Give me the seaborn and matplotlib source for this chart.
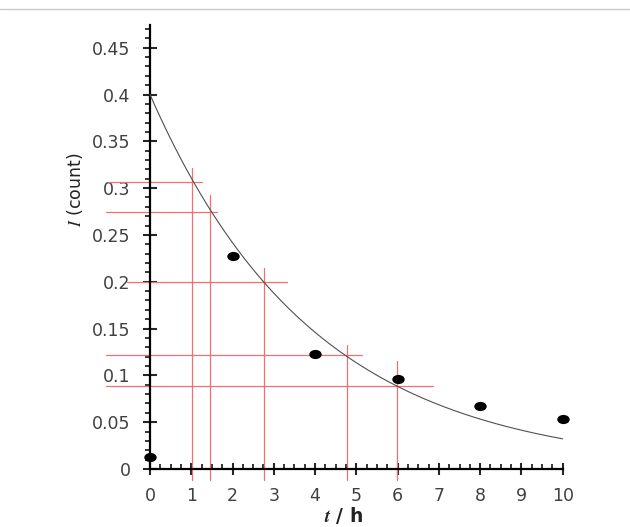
import numpy as np
import pandas as pd
import matplotlib
matplotlib.use("Agg")
import matplotlib.pyplot as plt
import seaborn as sns
from matplotlib.lines import Line2D
from matplotlib.path import Path
from matplotlib.transforms import Affine2D
from matplotlib.ticker import FixedLocator

# measured points
t_hours = [0, 2, 4, 6, 8, 10]
counts = [0.013, 0.227, 0.123, 0.096, 0.067, 0.053]

# fitted decay curve parameters (I = I0 * exp(-k t))
fit_i0 = 0.40
fit_k = 0.252

# red construction lines
hline_y = [0.307, 0.275, 0.200, 0.122, 0.089]
hline_x0 = [-1.02, -1.07, -0.55, -1.07, -1.07]
hline_x1 = [1.26, 1.63, 3.32, 5.14, 6.86]
vline_x = [1.01, 1.46, 2.76, 4.77, 5.98]
vline_top = [0.322, 0.293, 0.215, 0.132, 0.115]
vline_bottom = -0.012

x_ticks = list(range(0, 11))
y_ticks = [0, 0.05, 0.1, 0.15, 0.2, 0.25, 0.3, 0.35, 0.4, 0.45]
y_ticklabels = ["0", "0.05", "0.1", "0.15", "0.2", "0.25", "0.3", "0.35", "0.4", "0.45"]

sns.set_style("white")
plt.rcParams["font.family"] = ["DejaVu Sans"]
plt.rcParams["mathtext.fontset"] = "stix"

fig = plt.figure(figsize=(6.3, 5.27), dpi=100)
ax = fig.add_axes([0.1529, 0.0746, 0.7468, 0.8775])

# top separator line
fig.add_artist(Line2D([0, 1], [0.983, 0.983], color="#c8c8c8", lw=1.0))

red = "#f07070"
for y, x0, x1 in zip(hline_y, hline_x0, hline_x1):
    ax.plot([x0, x1], [y, y], color=red, lw=0.9, clip_on=False, zorder=2)
for x, top in zip(vline_x, vline_top):
    ax.plot([x, x], [vline_bottom, top], color=red, lw=0.9, clip_on=False, zorder=2)

curve_t = np.linspace(0, 10, 200)
curve = pd.DataFrame({"t": curve_t, "I": fit_i0 * np.exp(-fit_k * curve_t)})
sns.lineplot(data=curve, x="t", y="I", color="#505050", lw=0.8, ax=ax, zorder=3)

ellipse = Path.unit_circle().transformed(Affine2D().scale(1.35, 1.0))
pts = pd.DataFrame({"t": t_hours, "I": counts})
sns.scatterplot(data=pts, x="t", y="I", marker=ellipse, s=80, color="black",
                edgecolor="black", linewidth=0, ax=ax, zorder=4, clip_on=False)

ax.set_xlim(-1.3, 10.1)
ax.set_ylim(-0.02, 0.474)

for side in ["top", "right"]:
    ax.spines[side].set_visible(False)
ax.spines["left"].set_position(("data", 0))
ax.spines["bottom"].set_position(("data", 0))
ax.spines["left"].set_bounds(0, 0.474)
ax.spines["bottom"].set_bounds(0, 10)
for side in ["left", "bottom"]:
    ax.spines[side].set_linewidth(1.6)
    ax.spines[side].set_color("black")

ax.set_xticks(x_ticks)
ax.set_yticks(y_ticks)
ax.set_yticklabels(y_ticklabels)
x_minor = [i / 4 for i in range(1, 40) if i % 4]
y_minor = [i / 100 for i in range(1, 48) if i % 5]
ax.xaxis.set_minor_locator(FixedLocator(x_minor))
ax.yaxis.set_minor_locator(FixedLocator(y_minor))
ax.tick_params(axis="x", which="major", direction="inout", length=8, width=1.5,
               labelsize=12.5, labelcolor="#404040", pad=9, bottom=True)
ax.tick_params(axis="x", which="minor", direction="in", length=3.5, width=1.3, bottom=True)
ax.tick_params(axis="y", which="major", direction="inout", length=10, width=1.5,
               labelsize=12.5, labelcolor="#404040", pad=9, left=True)
ax.tick_params(axis="y", which="minor", direction="out", length=3.5, width=1.3, left=True)

ax.set_xlabel("")
ax.set_ylabel("")
fig.text(0.119, 0.64, r"$I$ (count)", rotation=90, ha="center", va="center",
         fontsize=12.5, color="#222222")
fig.text(0.545, 0.022, r"$\mathbfit{t}$ / h", ha="center", va="center",
         fontsize=13.5, fontweight="bold", color="#222222")

fig.savefig("out.png", dpi=100)
